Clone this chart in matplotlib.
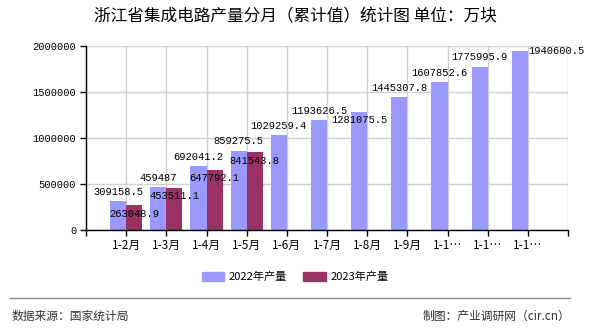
import matplotlib
matplotlib.use("Agg")
import matplotlib.pyplot as plt
from matplotlib.patches import Patch
from matplotlib.lines import Line2D

plt.rcParams['font.family'] = ['Noto Sans CJK SC', 'DejaVu Sans']

# data (units: 万块)
months = ['1-2月', '1-3月', '1-4月', '1-5月', '1-6月', '1-7月', '1-8月', '1-9月',
          '1-1…', '1-1…', '1-1…']
prod_2022 = [309158.5, 459487, 692041.2, 859275.5, 1029259.4, 1193626.5,
             1281075.5, 1445307.8, 1607852.6, 1775995.9, 1940600.5]
prod_2023 = [263048.9, 453511.1, 647792.1, 841543.8]
label_2022 = ['309158.5', '459487', '692041.2', '859275.5', '1029259.4', '1193626.5',
              '1281075.5', '1445307.8', '1607852.6', '1775995.9', '1940600.5']
label_2023 = ['263048.9', '453511.1', '647792.1', '841543.8']

c22 = '#9999FF'
c23 = '#993366'
mono = ['Liberation Mono', 'DejaVu Sans Mono']

fig = plt.figure(figsize=(5.9, 3.3), dpi=100)
ax = fig.add_axes([86 / 590, 1 - 229.5 / 330, 482 / 590, 183.5 / 330])

x22 = [i + 1 - 0.2 for i in range(len(prod_2022))]
x23 = [i + 1 + 0.2 for i in range(len(prod_2023))]
ax.bar(x22, prod_2022, width=0.4, color=c22, zorder=2)
ax.bar(x23, prod_2023, width=0.4, color=c23, zorder=2)

ax.set_xlim(0, 12)
ax.set_ylim(0, 2000000)
ax.set_xticks(range(0, 13))
ax.set_xticklabels([''] + months + [''], fontsize=8.5)
ax.set_yticks([0, 500000, 1000000, 1500000, 2000000])
ax.set_yticklabels(['0', '500000', '1000000', '1500000', '2000000'],
                   family=mono, fontsize=7.5)
ax.grid(True, color='#d0d0d0', linewidth=1, zorder=0)
for s in ['top', 'right']:
    ax.spines[s].set_visible(False)
ax.spines['left'].set_linewidth(1)
ax.spines['bottom'].set_linewidth(1)
ax.tick_params(axis='both', length=4, width=1, pad=3)

# data labels
for i, (xv, v, t) in enumerate(zip(x22, prod_2022, label_2022)):
    if i == len(prod_2022) - 1:
        ax.annotate(t, (xv + 0.2, v), xytext=(0, 0), textcoords='offset points',
                    ha='left', va='center', family=mono, fontsize=7.5, zorder=3)
    elif t == '1281075.5':
        ax.annotate(t, (xv, v), xytext=(0, -6), textcoords='offset points',
                    ha='center', va='center', family=mono, fontsize=7.5, zorder=3)
    else:
        ax.annotate(t, (xv, v), xytext=(0, 3), textcoords='offset points',
                    ha='center', va='bottom', family=mono, fontsize=7.5, zorder=3)
for xv, v, t in zip(x23, prod_2023, label_2023):
    ax.annotate(t, (xv, v), xytext=(0, -6), textcoords='offset points',
                ha='center', va='center', family=mono, fontsize=7.5, zorder=3)

fig.text(0.5, 1 - 17 / 330, '浙江省集成电路产量分月（累计值）统计图 单位：万块',
         ha='center', va='center', fontsize=12)

handles = [Patch(color=c22, label='2022年产量'), Patch(color=c23, label='2023年产量')]
fig.legend(handles=handles, loc='center', bbox_to_anchor=(0.5, 1 - 277 / 330),
           ncol=2, frameon=False, fontsize=8, handlelength=2.0, handleheight=0.9,
           columnspacing=1.5, handletextpad=0.4)

fig.add_artist(Line2D([10 / 590, 570 / 590], [1 - 298 / 330, 1 - 298 / 330],
                      color='#888888', linewidth=1))
fig.text(12 / 590, 1 - 316 / 330, '数据来源：国家统计局', ha='left', va='center',
         fontsize=8.5, color='#333333')
fig.text(570 / 590, 1 - 316 / 330, '制图：产业调研网（cir.cn）', ha='right', va='center',
         fontsize=8.5, color='#333333')

fig.savefig('out.png', dpi=100)
